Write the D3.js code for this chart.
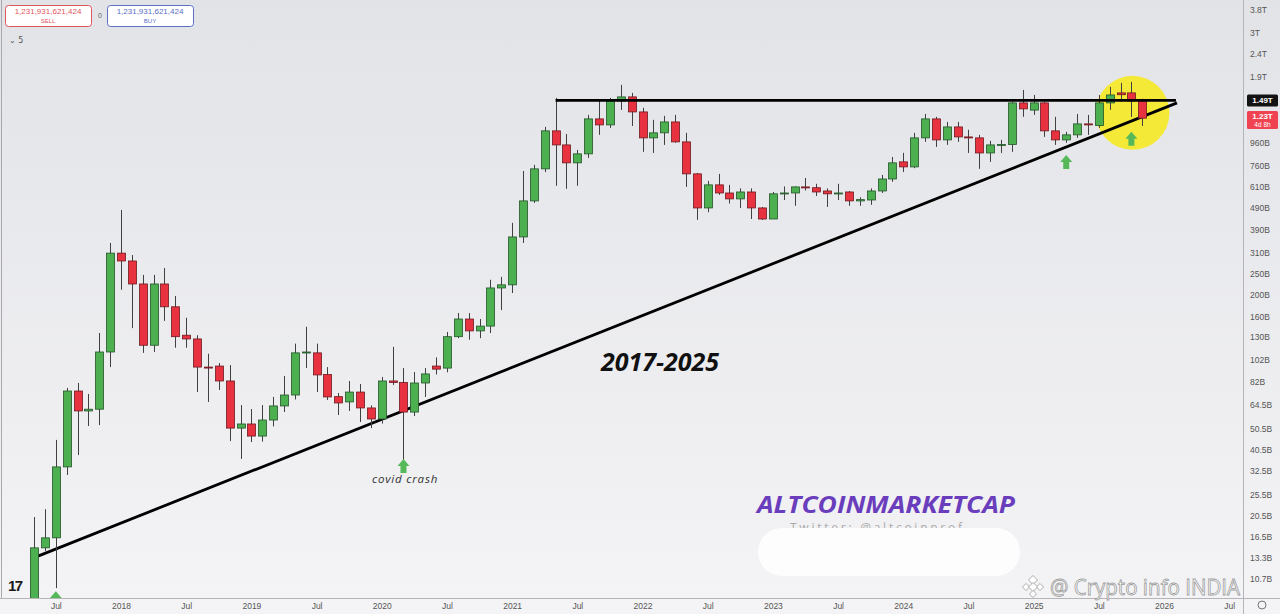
<!DOCTYPE html>
<html><head><meta charset="utf-8">
<script src="https://cdn.jsdelivr.net/npm/d3@7"></script>
<style>html,body{margin:0;padding:0;background:#ececef;overflow:hidden}svg{display:block}</style>
</head><body><svg id="c" width="1280" height="614"></svg>
<script>
// ---- data (values in billions USD) ----
const months = [
 "2017-05","2017-06","2017-07","2017-08","2017-09","2017-10","2017-11","2017-12",
 "2018-01","2018-02","2018-03","2018-04","2018-05","2018-06","2018-07","2018-08","2018-09","2018-10","2018-11","2018-12",
 "2019-01","2019-02","2019-03","2019-04","2019-05","2019-06","2019-07","2019-08","2019-09","2019-10","2019-11","2019-12",
 "2020-01","2020-02","2020-03","2020-04","2020-05","2020-06","2020-07","2020-08","2020-09","2020-10","2020-11","2020-12",
 "2021-01","2021-02","2021-03","2021-04","2021-05","2021-06","2021-07","2021-08","2021-09","2021-10","2021-11","2021-12",
 "2022-01","2022-02","2022-03","2022-04","2022-05","2022-06","2022-07","2022-08","2022-09","2022-10","2022-11","2022-12",
 "2023-01","2023-02","2023-03","2023-04","2023-05","2023-06","2023-07","2023-08","2023-09","2023-10","2023-11","2023-12",
 "2024-01","2024-02","2024-03","2024-04","2024-05","2024-06","2024-07","2024-08","2024-09","2024-10","2024-11","2024-12",
 "2025-01","2025-02","2025-03","2025-04","2025-05","2025-06","2025-07","2025-08","2025-09","2025-10","2025-11"];
const open = [
 7.5,14.7,16.3,33.9,74.2,60.4,61.5,111,
 308,284,224,119,224,177,132,127,95,96,82.3,50.6,
 52.8,46.6,55,63.6,71.2,110,110,88,70,66.3,73.4,62.3,
 55.6,82.3,81,59.7,80.6,96,94,130,156,138,145,215,
 222,364,528,735,1088,941,782,858,1231,1157,1482,1545,
 1323,1012,1066,1193,971,698,491,623,573,539,579,491,
 438,568,573,610,605,585,570,579,528,533,585,662,
 790,750,1012,1231,991,1133,1022,1012,866,941,945,1452,
 1348,1452,1088,991,1044,1169,1150,1452,1610,1610,1482];
const high = [
 20.2,21.9,44.8,76.6,80.6,72,135,342,
 481,302,246,246,264,198,158,132,109,99,97,64.2,
 61.6,64.2,69.8,86.7,121,144,121,95,72.7,82.3,79.8,64,
 85.8,117,94,90.3,94,105,136.5,166,166,156,234,241,
 421,719,766,1133,1529,1054,894,1283,1482,1529,1748,1610,
 1380,1219,1270,1283,1066,705,649,698,623,601,601,496,
 579,613,613,669,630,601,630,585,548,601,690,831,
 867,1066,1296,1257,1193,1193,1100,1044,981,991,1470,1660,
 1576,1470,1257,1077,1296,1283,1576,1713,1785,1804,1515];
const low = [
 7,14.2,9.7,31.2,38.3,51.7,52.2,95,
 211,142,110,111,153,116,116,73.4,66.3,75,44.3,36.8,
 43.8,44,51.5,59.7,68,94,73.4,67.6,57.9,60.4,53.9,50.6,
 53,79,36,57.3,69.8,88,90,128,126,128,135,171,
 204,342,517,711,617,598,617,823,1044,1122,1351,1144,
 876,866,941,962,610,434,470,562,514,491,438,434,
 438,533,502,588,555,496,533,502,502,507,573,643,
 711,740,971,922,941,971,866,735,790,866,876,1257,
 1283,1022,941,962,1012,1044,1122,1351,1470,1257,1144];
const close = [
 14.7,16.3,33.9,74.2,60.4,61.5,111,308,
 284,224,119,224,177,130,127,95,94.5,82.3,50.6,52.8,
 46.6,55,63.6,71.2,110,111,87.6,69.8,65.6,73.4,62.3,55.6,
 82.3,81,59.7,80.6,88.5,93,130,156,138,145,215,222,
 364,528,735,1088,941,782,858,1231,1157,1482,1545,1323,
 1012,1066,1193,971,698,491,623,573,539,579,491,438,
 568,573,610,608,579,568,573,528,535,585,662,782,
 750,1012,1231,991,1133,1022,1012,866,941,945,1452,1365,
 1452,1088,991,1044,1169,1157,1452,1576,1580,1482,1240];

const yTickValues = [3800,3000,2400,1900,960,760,610,490,390,310,250,200,160,130,102,82,64.5,50.5,40.5,32.5,25.5,20.5,16.5,13.3,10.7];
const yTickLabels = ["3.8T","3T","2.4T","1.9T","960B","760B","610B","490B","390B","310B","250B","200B","160B","130B","102B","82B","64.5B","50.5B","40.5B","32.5B","25.5B","20.5B","16.5B","13.3B","10.7B"];
const xTickMonths = ["2017-07","2018-01","2018-07","2019-01","2019-07","2020-01","2020-07","2021-01","2021-07","2022-01","2022-07","2023-01","2023-07","2024-01","2024-07","2025-01","2025-07","2026-01","2026-07"];
const xTickLabels = ["Jul","2018","Jul","2019","Jul","2020","Jul","2021","Jul","2022","Jul","2023","Jul","2024","Jul","2025","Jul","2026","Jul"];

// resistance & trendline (month, value)
const resistance = [["2021-05",1490],["2026-03",1490]];
const trendline = [["2017-05",13.5,0.36],["2026-02",1452,0.2]];
const arrows = [["2017-07",9.4],["2020-03",36.8],["2025-04",848],["2025-10",1077]];
const circleMark = ["2025-10",1310];
const lastPrice = 1230, lineLevel = 1490;

// ---- setup ----
const W = 1280, H = 614, PR = 1243, PB = 598;
const svg = d3.select("#c");
const defs = svg.append("defs");
const grad = defs.append("linearGradient").attr("id","bg").attr("x1",0).attr("y1",0).attr("x2",0).attr("y2",1);
grad.append("stop").attr("offset","0%").attr("stop-color","#e2e3e7");
grad.append("stop").attr("offset","100%").attr("stop-color","#f4f4f6");
defs.append("clipPath").attr("id","clip").append("rect").attr("x",0).attr("y",0).attr("width",PR).attr("height",PB);
svg.append("rect").attr("width",W).attr("height",H).attr("fill","url(#bg)");

const mIdx = s => { const [yy,mm] = s.split("-").map(Number); return (yy-2017)*12 + (mm-1); };
const x = d3.scaleLinear().domain([12,108]).range([121,1164]);
const y = d3.scaleLog().domain([8.76,4200]).range([PB,0]);

const data = months.map((d,i)=>({m:mIdx(d),o:open[i],h:high[i],l:low[i],c:close[i]}));

const plot = svg.append("g").attr("clip-path","url(#clip)");

// yellow circle
plot.append("circle").attr("cx",x(mIdx(circleMark[0])+0.1)).attr("cy",y(circleMark[1])).attr("r",37)
  .attr("fill","#f6e92e").attr("opacity",0.95);

// trendline
plot.append("line")
  .attr("x1",x(mIdx(trendline[0][0])+trendline[0][2])).attr("y1",y(trendline[0][1]))
  .attr("x2",x(mIdx(trendline[1][0])+trendline[1][2])).attr("y2",y(trendline[1][1]))
  .attr("stroke","#000").attr("stroke-width",2.8);

// candles
const bw = 8;
plot.selectAll("line.wick").data(data).join("line").attr("class","wick")
  .attr("x1",d=>Math.round(x(d.m))+0.5).attr("x2",d=>Math.round(x(d.m))+0.5)
  .attr("y1",d=>y(d.h)).attr("y2",d=>y(d.l)).attr("stroke","#404040").attr("stroke-width",1);
plot.selectAll("rect.body").data(data).join("rect").attr("class","body")
  .attr("x",d=>Math.round(x(d.m))+0.5-bw/2).attr("width",bw)
  .attr("y",d=>y(Math.max(d.o,d.c)))
  .attr("height",d=>Math.max(1,Math.abs(y(d.o)-y(d.c))))
  .attr("fill",d=>d.c>=d.o?"#4caf50":"#e8323f")
  .attr("stroke",d=>d.c>=d.o?"#24552a":"#6e1a20").attr("stroke-width",0.8);

// resistance line
plot.append("line")
  .attr("x1",x(mIdx(resistance[0][0]))).attr("x2",x(mIdx(resistance[1][0])-0.9))
  .attr("y1",y(resistance[0][1])).attr("y2",y(resistance[1][1]))
  .attr("stroke","#000").attr("stroke-width",2.8);

// arrows
const arrowPath = (tx,ty)=>`M${tx},${ty} L${tx+6},${ty+7} L${tx+3},${ty+7} L${tx+3},${ty+14} L${tx-3},${ty+14} L${tx-3},${ty+7} L${tx-6},${ty+7} Z`;
plot.selectAll("path.arrow").data(arrows).join("path").attr("class","arrow")
  .attr("d",d=>arrowPath(x(mIdx(d[0])),y(d[1]))).attr("fill","#55b95a");

// TV logo
svg.append("text").attr("x",8).attr("y",591).text("17")
  .attr("font-family","Liberation Sans, Arial").attr("font-weight",900).attr("font-size",15)
  .attr("letter-spacing",-1.5).attr("fill","#1a1a1a");

// annotation texts
svg.append("text").attr("x",660).attr("y",371).attr("text-anchor","middle").text("2017-2025")
  .attr("font-family","Open Sans, DejaVu Sans").attr("font-style","italic").attr("font-weight",700)
  .attr("font-size",25).attr("fill","#111");
svg.append("text").attr("x",405).attr("y",483).attr("text-anchor","middle").text("covid crash")
  .attr("font-family","Open Sans, DejaVu Sans").attr("font-style","italic").attr("font-size",11.5)
  .attr("letter-spacing",0.8).attr("fill","#333");

// watermark
svg.append("text").attr("x",757).attr("y",513).text("ALTCOINMARKETCAP")
  .attr("textLength",258).attr("lengthAdjust","spacingAndGlyphs")
  .attr("font-family","Open Sans, DejaVu Sans").attr("font-style","italic").attr("font-weight",700)
  .attr("font-size",24).attr("fill","#6a3dbd");
svg.append("text").attr("x",790).attr("y",532).text("Twitter: @altcoinprof")
  .attr("textLength",172).attr("font-family","Open Sans, DejaVu Sans").attr("font-size",12)
  .attr("fill","#9a9a9a").attr("opacity",0.8);
svg.append("rect").attr("x",758).attr("y",528).attr("width",262).attr("height",48).attr("rx",24)
  .attr("fill","#fdfdfd");

// axes frame
svg.append("line").attr("x1",PR+0.5).attr("x2",PR+0.5).attr("y1",0).attr("y2",H).attr("stroke","#b5b5b9");
svg.append("line").attr("x1",0).attr("x2",W).attr("y1",PB+0.5).attr("y2",PB+0.5).attr("stroke","#b5b5b9");
svg.append("line").attr("x1",1.5).attr("x2",1.5).attr("y1",0).attr("y2",PB).attr("stroke","#a9a9ad");

// y axis
const yAxis = svg.append("g").attr("transform",`translate(${PR},0)`)
  .call(d3.axisRight(y).tickValues(yTickValues).tickFormat((d,i)=>yTickLabels[i]).tickSize(0).tickPadding(7));
yAxis.select(".domain").remove();
yAxis.selectAll("text").attr("font-family","Liberation Sans, Arial").attr("font-size",8.5).attr("fill","#555");

// price labels
const pl = (val,label,sub,fill)=>{
  const g = svg.append("g").attr("transform",`translate(${PR+4},${y(val)})`);
  const h = sub?18:12;
  g.append("rect").attr("x",0).attr("y",sub?-8:-6).attr("width",31).attr("height",h).attr("rx",1.5).attr("fill",fill);
  g.append("text").attr("x",15.5).attr("y",sub?0:3).attr("text-anchor","middle").text(label)
    .attr("font-family","Liberation Sans, Arial").attr("font-weight",700).attr("font-size",8).attr("fill","#fff");
  if(sub) g.append("text").attr("x",15.5).attr("y",8).attr("text-anchor","middle").text(sub)
    .attr("font-family","Liberation Sans, Arial").attr("font-size",6.5).attr("fill","#fff");
};
pl(lineLevel,"1.49T",null,"#131313");
pl(lastPrice,"1.23T","4d 8h","#ef4352");

// x axis
const xAxis = svg.append("g").attr("transform",`translate(0,${PB})`)
  .call(d3.axisBottom(x).tickValues(xTickMonths.map(mIdx)).tickFormat((d,i)=>xTickLabels[i]).tickSize(0).tickPadding(5));
xAxis.select(".domain").remove();
xAxis.selectAll("text").attr("font-family","Liberation Sans, Arial").attr("font-size",8.5).attr("fill","#555");

// bottom-right watermark
const bl = svg.append("g").attr("transform","translate(1033,587)").attr("fill","#fff").attr("stroke","#a8a8a8").attr("stroke-width",0.9);
[[0,-7,3.2],[-7,0,2.5],[7,0,2.5],[0,0,3.2],[0,7,2.5]].forEach(p=>{
  bl.append("rect").attr("x",p[0]-p[2]).attr("y",p[1]-p[2]).attr("width",p[2]*2).attr("height",p[2]*2)
    .attr("transform",`rotate(45 ${p[0]} ${p[1]})`);
});
svg.append("text").attr("x",1050).attr("y",595).text("@ Crypto info INDIA")
  .attr("textLength",190).attr("lengthAdjust","spacingAndGlyphs")
  .attr("font-family","Open Sans, DejaVu Sans").attr("font-size",21).attr("fill","#fff")
  .attr("stroke","#9d9d9d").attr("stroke-width",0.8);
svg.append("circle").attr("cx",1262).attr("cy",605).attr("r",4).attr("fill","none").attr("stroke","#777").attr("stroke-width",1);

// top-left order boxes
const ob = (bx,col,txt,label)=>{
  svg.append("rect").attr("x",bx+0.5).attr("y",5.5).attr("width",86).attr("height",21).attr("rx",3)
    .attr("fill","#fff").attr("stroke",col);
  svg.append("text").attr("x",bx+43).attr("y",14).attr("text-anchor","middle").text(txt)
    .attr("font-family","Liberation Sans, Arial").attr("font-size",8).attr("fill",col);
  svg.append("text").attr("x",bx+43).attr("y",23).attr("text-anchor","middle").text(label)
    .attr("font-family","Liberation Sans, Arial").attr("font-size",6).attr("fill",col);
};
ob(5,"#e2545d","1,231,931,621,424","SELL");
ob(107,"#5a6ec8","1,231,931,621,424","BUY");
svg.append("text").attr("x",100).attr("y",18).attr("text-anchor","middle").text("0")
  .attr("font-family","Liberation Sans, Arial").attr("font-size",7).attr("fill","#666");
svg.append("text").attr("x",9).attr("y",43).text("⌄ 5")
  .attr("font-family","DejaVu Sans").attr("font-size",8).attr("fill","#555");
</script></body></html>
